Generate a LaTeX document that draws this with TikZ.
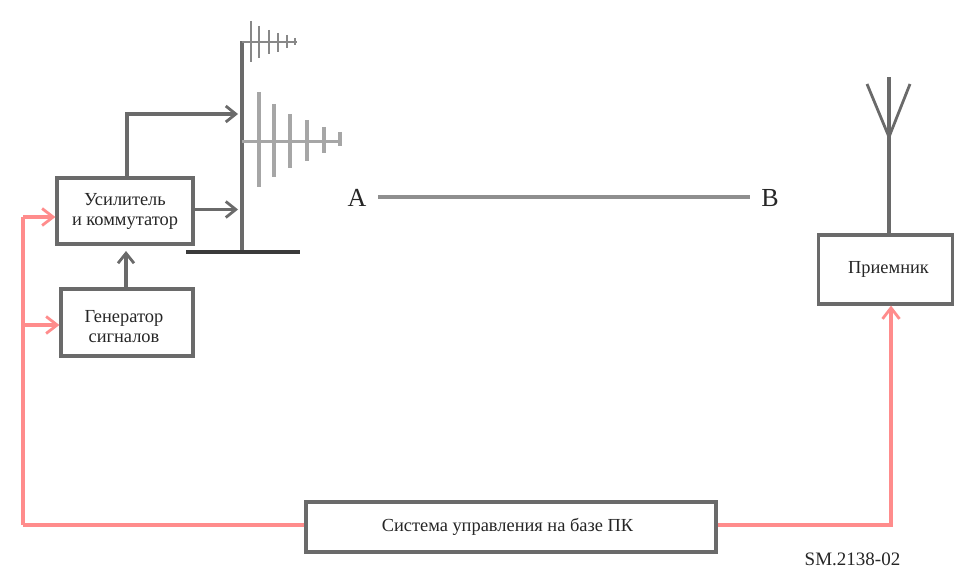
\documentclass[tikz,border=0pt]{standalone}
\usepackage{fontspec}
\setmainfont{Liberation Serif}
\usetikzlibrary{arrows.meta}
\definecolor{ink}{HTML}{6A6A6A}
\definecolor{dark}{HTML}{3A3A3A}
\definecolor{rd}{HTML}{FF8C8C}
\definecolor{elem}{HTML}{A6A6A6}
\tikzset{
 x=1pt,y=-1pt,
 block/.style={draw=ink,line width=3.2pt,fill=white,inner sep=0pt,align=center,font=\fontsize{18.4}{20}\selectfont,text=black!85},
 gline/.style={draw=ink,line width=3.2pt},
 garrow/.style={gline,-{Straight Barb[length=10pt,width=16pt,line width=2.8pt]}},
 rline/.style={draw=rd,line width=3.4pt},
 rarrow/.style={rline,-{Straight Barb[length=11pt,width=17pt,line width=2.8pt]}},
 elemb/.style={draw=elem,line width=3.4pt},
 elems/.style={draw=ink!80,line width=2.8pt},
 boom/.style={draw=ink!80,line width=2.4pt},
 letter/.style={font=\fontsize{26}{28}\selectfont,text=black!85,inner sep=0pt},
}
\begin{document}
\begin{tikzpicture}
\useasboundingbox (0,0) rectangle (958,569);
% blocks
\node[block,minimum width=136pt,minimum height=66pt] (amp) at (125,211) {Усилитель\\и коммутатор};
\node[block,minimum width=132pt,minimum height=67pt] (gen) at (127,322.5) {\rule{0pt}{20pt}Генератор\hspace*{6pt}\\сигналов\hspace*{6pt}};
\node[block,minimum width=134pt,minimum height=69pt] (rx) at (885.5,269.5) {\hspace*{6pt}Приемник};
\node[block,minimum width=410pt,minimum height=50pt] (pc) at (511,527) {\raisebox{-5pt}{Система управления на базе ПК}\hspace*{7pt}};
% transmit mast
\coordinate (mastT) at (242,41);
\coordinate (mastB) at (242,250);
\coordinate (baseL) at (186,252);
\coordinate (baseR) at (300,252);
\draw[gline] (mastT) -- (mastB);
\draw[draw=dark,line width=4.2pt] (baseL) -- (baseR);
% upper antenna
\coordinate (b1) at (242,42);
\coordinate (b1e) at (297,42);
\draw[boom] (b1) -- (b1e);
\foreach \x/\a/\b in {251/21/62,259/26/58,269/30/54,278/33/52,287/35/48,295/38/45}
  \draw[elems] (\x,\a) -- (\x,\b);
% lower antenna
\coordinate (b2) at (242,141.5);
\coordinate (b2e) at (342,141.5);
\draw[draw=elem,line width=2.6pt] (b2) -- (b2e);
\draw[elemb] (259,92) -- (259,187);
\draw[elemb] (274,104) -- (274,177);
\draw[elemb] (290,114) -- (290,168);
\draw[elemb] (307,120) -- (307,161);
\draw[elemb] (324,127) -- (324,153);
\draw[elemb] (340,132) -- (340,146);
% grey connectors
\coordinate (t1) at (238,114);
\coordinate (t2) at (238,209.5);
\draw[garrow] (amp.north) ++(2,0) |- (t1);
\draw[garrow] (amp.east |- t2) -- (t2);
\draw[garrow] (gen.north -| 126,0) -- (126,251);
% path A-B
\node[letter] (A) at (357,198) {A};
\node[letter] (B) at (770,198) {B};
\coordinate (ab1) at (378,197);
\coordinate (ab2) at (750,197);
\draw[draw=ink!75,line width=3.2pt] (ab1) -- (ab2);
% receive antenna
\coordinate (rj) at (889,137);
\coordinate (rt) at (889,77);
\draw[gline] (rx.north -| rj) -- (rj) -- (rt);
\draw[gline,line width=2.8pt] (867,84) -- (rj) -- (910,84);
% red connectors
\coordinate (rv) at (23,217);
\coordinate (rb) at (23,325);
\coordinate (rp) at (23,525);
\coordinate (rq) at (891,525);
\draw[rline] (rp) -- (rv);
\draw[rline] (pc.west |- rp) -- (rp);
\draw[rarrow] (rv) -- (amp.west |- rv);
\draw[rarrow] (rb) -- (gen.west |- rb);
\draw[rarrow] (pc.east |- rq) -- (rq) -- (rx.south -| rq);
% ref
\node[font=\fontsize{19}{20}\selectfont,text=black!85,inner sep=0pt] (ref) at (852.5,559) {SM.2138-02};
\end{tikzpicture}
\end{document}
